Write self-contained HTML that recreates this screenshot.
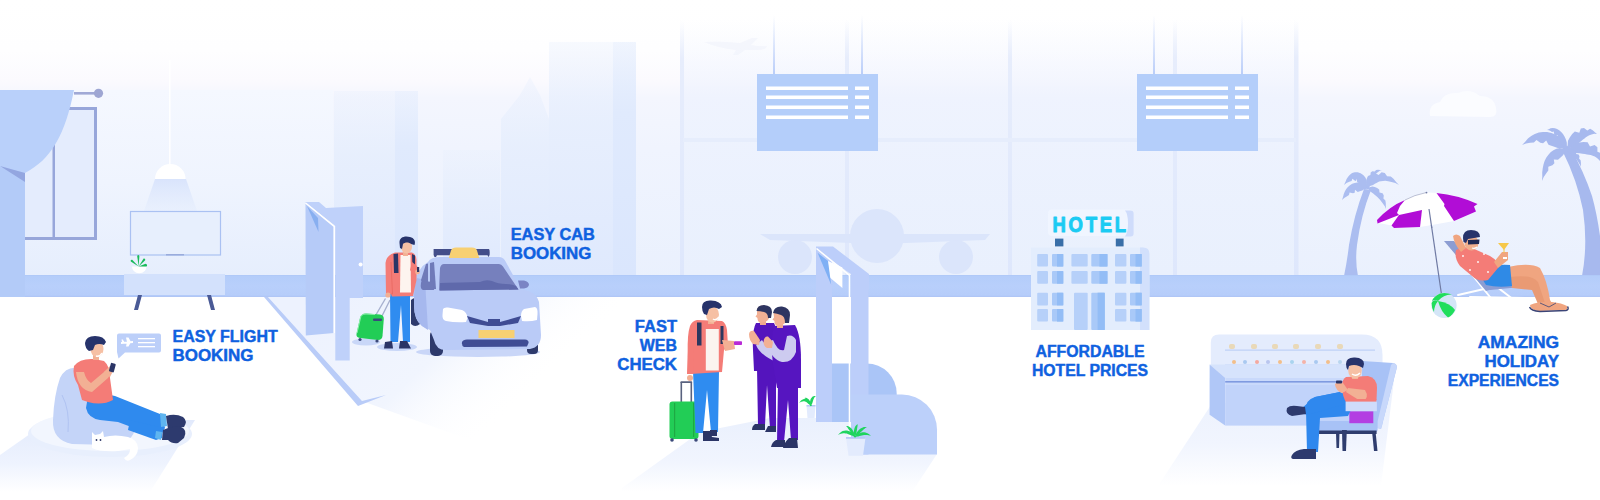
<!DOCTYPE html>
<html><head><meta charset="utf-8">
<style>
html,body{margin:0;padding:0;background:#fff;width:1600px;height:500px;overflow:hidden}
svg{display:block}
.t{font-family:"Liberation Sans",sans-serif;font-weight:bold;fill:#0f61e0;stroke:#0f61e0;stroke-width:0.45px;font-size:16px}
</style></head><body>
<svg width="1600" height="500" viewBox="0 0 1600 500">
<defs>
<linearGradient id="sky" gradientUnits="userSpaceOnUse" x1="0" y1="0" x2="0" y2="297">
<stop offset="0" stop-color="#ffffff"/>
<stop offset="0.17" stop-color="#fefeff"/>
<stop offset="0.27" stop-color="#fbfafe"/>
<stop offset="0.33" stop-color="#f4f6fe"/>
<stop offset="0.5" stop-color="#f0f4fe"/>
<stop offset="1" stop-color="#e9f0fd"/>
</linearGradient>
<linearGradient id="glass" gradientUnits="userSpaceOnUse" x1="0" y1="20" x2="0" y2="275">
<stop offset="0" stop-color="#eef3fe" stop-opacity="0"/>
<stop offset="0.3" stop-color="#edf2fe" stop-opacity="0.7"/>
<stop offset="1" stop-color="#e9f0fd" stop-opacity="1"/>
</linearGradient>
<linearGradient id="wire" x1="0" y1="0" x2="0" y2="1">
<stop offset="0" stop-color="#c3d4fa" stop-opacity="0"/>
<stop offset="1" stop-color="#b9cdf9"/>
</linearGradient>
<linearGradient id="frameV" gradientUnits="userSpaceOnUse" x1="0" y1="20" x2="0" y2="275">
<stop offset="0" stop-color="#e8eefc" stop-opacity="0"/>
<stop offset="0.15" stop-color="#e7edfc"/>
<stop offset="1" stop-color="#dee7fc"/>
</linearGradient>
<linearGradient id="bldg" x1="0" y1="0" x2="0" y2="1">
<stop offset="0" stop-color="#e9f0fd" stop-opacity="0.35"/>
<stop offset="0.35" stop-color="#e6eefd" stop-opacity="0.9"/>
<stop offset="1" stop-color="#dfe9fd"/>
</linearGradient>
<linearGradient id="floorFade" x1="0" y1="0" x2="0" y2="1">
<stop offset="0" stop-color="#e6edfc"/>
<stop offset="1" stop-color="#ffffff" stop-opacity="0"/>
</linearGradient>
<linearGradient id="shadeL" x1="0" y1="0" x2="0" y2="1">
<stop offset="0" stop-color="#e2eafc"/>
<stop offset="0.6" stop-color="#eef3fe"/>
<stop offset="1" stop-color="#ffffff"/>
</linearGradient>
<linearGradient id="shadeC" x1="0" y1="0" x2="0" y2="1">
<stop offset="0" stop-color="#eaf0fd"/>
<stop offset="0.6" stop-color="#f1f5fe"/>
<stop offset="1" stop-color="#ffffff"/>
</linearGradient>
<linearGradient id="bandG" gradientUnits="userSpaceOnUse" x1="0" y1="275" x2="0" y2="297">
<stop offset="0" stop-color="#adc7f7"/>
<stop offset="0.06" stop-color="#b4cdfa"/>
<stop offset="0.5" stop-color="#b8cffb"/>
<stop offset="0.92" stop-color="#b6cdfa"/>
<stop offset="0.96" stop-color="#b0c6f6"/>
<stop offset="1" stop-color="#b0c6f6"/>
</linearGradient>
<linearGradient id="cone" x1="0" y1="0" x2="0" y2="1">
<stop offset="0" stop-color="#d9e4fc"/>
<stop offset="1" stop-color="#e6eefd" stop-opacity="0.6"/>
</linearGradient>
<linearGradient id="shadeD" gradientUnits="userSpaceOnUse" x1="330" y1="300" x2="470" y2="450">
<stop offset="0" stop-color="#edf2fe"/>
<stop offset="0.55" stop-color="#f1f5fe"/>
<stop offset="1" stop-color="#ffffff" stop-opacity="0"/>
</linearGradient>
<linearGradient id="bldgR" x1="0" y1="0" x2="0" y2="1">
<stop offset="0" stop-color="#e6eefd" stop-opacity="0.4"/>
<stop offset="0.3" stop-color="#e0eafd"/>
<stop offset="1" stop-color="#dae6fd"/>
</linearGradient>
<linearGradient id="wallG" x1="0" y1="0" x2="0" y2="1">
<stop offset="0" stop-color="#f5f8ff"/>
<stop offset="0.5" stop-color="#eff4fe"/>
<stop offset="1" stop-color="#e6eefd"/>
</linearGradient>
</defs>

<!-- sky / back wall -->
<rect x="0" y="0" width="1600" height="297" fill="url(#sky)"/>

<!-- city buildings -->
<g fill="url(#bldg)">
<rect x="334" y="91" width="84" height="184"/>
<rect x="443" y="150" width="57" height="125"/>
<path d="M501 275 V119 L520 95 L530 77 L540 95 L549 119 V275Z"/>
<rect x="549" y="42" width="87" height="233"/>
</g>
<rect x="395" y="91" width="23" height="184" fill="url(#bldgR)"/>
<rect x="613" y="42" width="23" height="233" fill="url(#bldgR)"/>

<!-- sky plane -->
<path d="M704 42 Q720 41 740 43 L752 38 L758 38 L751 45 Q760 47 767 46 Q766 50 757 50 L745 50 L738 55 L733 55 L736 50 Q718 48 704 42Z" fill="#f0f1fa" opacity="0.6"/>
<!-- cloud -->
<path d="M1430 116 Q1428 104 1440 102 Q1444 92 1458 93 Q1470 88 1480 96 Q1494 96 1496 108 Q1498 117 1490 117Z" fill="#fbfcff"/>
<!-- window frames -->
<rect x="683" y="20" width="615" height="255" fill="url(#glass)"/>
<g fill="url(#frameV)">
<rect x="680" y="20" width="4" height="255"/>
<rect x="845" y="20" width="4" height="255"/>
<rect x="1008" y="20" width="4" height="255"/>
<rect x="1173" y="20" width="4" height="255"/>
<rect x="1294" y="20" width="4.5" height="255"/>
</g>
<rect x="683" y="138" width="613" height="4" fill="#e6edfc"/>

<!-- airplane front view -->
<g fill="#dbe5fb">
<path d="M760 234 L990 234 L985 240 L880 244 L770 240Z"/>
<circle cx="877" cy="236" r="27"/>
<circle cx="795" cy="257" r="17"/>
<circle cx="956" cy="257" r="17"/>
</g>

<!-- flight boards -->
<rect x="773" y="15" width="2" height="60" fill="url(#wire)"/>
<rect x="861" y="15" width="2" height="60" fill="url(#wire)"/>
<rect x="1153" y="15" width="2" height="60" fill="url(#wire)"/>
<rect x="1241" y="15" width="2" height="60" fill="url(#wire)"/>
<g>
<rect x="757" y="74" width="121" height="77" fill="#b4cefa"/>
<g fill="#fff">
<rect x="766" y="86.5" width="82" height="3.5"/><rect x="855" y="86.5" width="14" height="3.5"/>
<rect x="766" y="95.5" width="82" height="3.5"/><rect x="855" y="95.5" width="14" height="3.5"/>
<rect x="766" y="105.5" width="82" height="3.5"/><rect x="855" y="105.5" width="14" height="3.5"/>
<rect x="766" y="115.5" width="82" height="3.5"/><rect x="855" y="115.5" width="14" height="3.5"/>
</g>
</g>
<g transform="translate(380 0)">
<rect x="757" y="74" width="121" height="77" fill="#b4cefa"/>
<g fill="#fff">
<rect x="766" y="86.5" width="82" height="3.5"/><rect x="855" y="86.5" width="14" height="3.5"/>
<rect x="766" y="95.5" width="82" height="3.5"/><rect x="855" y="95.5" width="14" height="3.5"/>
<rect x="766" y="105.5" width="82" height="3.5"/><rect x="855" y="105.5" width="14" height="3.5"/>
<rect x="766" y="115.5" width="82" height="3.5"/><rect x="855" y="115.5" width="14" height="3.5"/>
</g>
</g>

<!-- palms -->
<g fill="#a7b9ee">
<path d="M1563 152 Q1577 180 1583 210 Q1588 245 1582 276 L1600 276 L1600 236 Q1597 214 1592 196 Q1584 172 1571 149Z"/>
<path d="M1568.4 148.5 L1564.9 145.2 L1562.8 140.3 L1559.3 137.1 L1555.5 134.6 L1551.4 132.9 L1547.1 132.0 L1542.9 131.9 L1538.8 132.6 L1534.8 134.0 L1531.2 136.0 L1527.9 138.6 L1525.0 141.9 L1522.0 145.0 L1522.0 145.0 L1526.0 143.4 L1530.2 142.8 L1533.9 142.5 L1536.5 139.9 L1540.3 142.8 L1543.1 143.3 L1546.2 140.4 L1548.5 144.8 L1551.3 145.7 L1554.3 146.8 L1557.7 148.1 L1562.3 148.5 L1565.6 151.5Z"/>
<path d="M1568.1 149.6 L1566.9 146.1 L1566.8 142.4 L1565.8 139.2 L1564.5 136.4 L1563.0 134.0 L1561.2 131.9 L1559.2 130.2 L1557.1 129.0 L1554.9 128.2 L1552.7 128.0 L1550.6 128.3 L1548.7 129.2 L1547.0 130.0 L1547.0 130.0 L1548.9 130.2 L1550.6 131.0 L1552.0 132.0 L1553.7 131.6 L1554.2 134.1 L1555.2 135.3 L1557.8 135.3 L1557.5 138.3 L1558.9 140.2 L1560.4 142.3 L1562.1 144.7 L1564.6 147.1 L1565.9 150.4Z"/>
<path d="M1568.7 151.0 L1570.8 147.6 L1574.7 146.1 L1577.2 144.1 L1579.4 142.4 L1581.3 140.9 L1583.0 139.6 L1584.5 138.4 L1585.9 137.3 L1587.5 136.2 L1589.3 135.2 L1591.5 134.4 L1594.2 133.7 L1597.0 134.0 L1597.0 134.0 L1594.9 132.2 L1592.7 130.2 L1590.1 128.8 L1587.3 130.5 L1584.0 127.9 L1580.8 128.5 L1579.3 132.7 L1574.8 131.6 L1572.2 134.1 L1569.9 137.2 L1568.0 140.7 L1567.6 145.4 L1565.3 149.0Z"/>
<path d="M1567.5 152.0 L1571.8 151.0 L1576.1 152.9 L1579.5 153.3 L1582.4 153.7 L1584.9 154.1 L1587.0 154.4 L1588.9 154.7 L1590.7 155.1 L1592.7 155.7 L1594.8 156.6 L1597.0 158.1 L1599.4 160.2 L1601.0 163.0 L1601.0 163.0 L1601.1 159.7 L1601.3 156.4 L1600.8 153.1 L1597.4 151.7 L1597.4 147.2 L1594.6 144.9 L1590.0 146.5 L1587.6 142.2 L1583.6 141.9 L1579.4 142.4 L1575.2 143.6 L1571.1 146.9 L1566.5 148.0Z"/>
<path d="M1566.6 148.2 L1563.6 148.9 L1559.8 147.9 L1556.4 148.8 L1553.4 150.3 L1550.6 152.3 L1548.2 154.9 L1546.2 157.8 L1544.6 161.0 L1543.5 164.6 L1542.7 168.4 L1542.2 172.4 L1542.3 176.7 L1542.0 181.0 L1542.0 181.0 L1543.7 177.0 L1546.1 173.6 L1548.3 170.4 L1548.3 166.8 L1552.4 165.3 L1554.4 163.2 L1553.8 159.4 L1558.0 159.7 L1559.7 158.2 L1561.4 156.7 L1563.2 155.1 L1564.7 152.3 L1567.4 151.8Z"/>
<path d="M1566.8 150.9 L1568.3 151.2 L1569.3 152.7 L1570.4 153.6 L1571.4 154.4 L1572.4 155.3 L1573.5 156.3 L1574.5 157.3 L1575.6 158.5 L1576.7 159.8 L1577.8 161.3 L1578.9 163.0 L1580.1 164.9 L1581.0 167.0 L1581.0 167.0 L1580.9 164.7 L1580.9 162.4 L1580.6 160.3 L1579.1 158.7 L1579.5 156.3 L1578.6 154.6 L1576.2 154.0 L1576.1 151.6 L1574.6 150.5 L1572.9 149.6 L1571.1 149.1 L1568.9 149.5 L1567.2 149.1Z"/>
</g>
<g fill="#abbdf0">
<path d="M1364 189 Q1354 215 1349 245 Q1347 262 1344 276 L1358 276 Q1355 262 1357 245 Q1361 215 1371 190Z"/>
<path d="M1368.5 187.2 L1366.8 184.1 L1366.7 180.2 L1365.2 177.3 L1363.2 174.9 L1360.6 173.2 L1357.7 172.2 L1354.8 172.2 L1352.1 173.1 L1349.9 174.7 L1348.1 176.7 L1346.6 179.1 L1345.4 182.0 L1344.0 185.0 L1344.0 185.0 L1346.5 182.9 L1349.3 181.7 L1351.6 180.9 L1352.4 178.8 L1355.0 180.7 L1355.9 181.1 L1356.9 178.8 L1357.1 182.1 L1358.0 182.6 L1359.2 183.4 L1361.0 184.7 L1364.0 185.9 L1365.5 188.8Z"/>
<path d="M1367.4 186.4 L1365.0 185.7 L1362.7 183.3 L1360.1 182.6 L1357.3 182.5 L1354.7 182.9 L1352.2 183.8 L1349.9 185.2 L1347.9 187.0 L1346.2 189.1 L1344.8 191.5 L1343.7 194.2 L1343.0 197.1 L1342.0 200.0 L1342.0 200.0 L1344.2 197.9 L1346.7 196.4 L1349.0 195.1 L1349.6 192.6 L1353.0 193.3 L1354.7 192.8 L1355.0 189.8 L1357.7 192.0 L1359.1 191.6 L1360.6 191.1 L1362.3 190.6 L1364.4 189.0 L1366.6 189.6Z"/>
<path d="M1368.5 188.8 L1370.0 185.9 L1373.1 184.9 L1374.9 183.7 L1376.5 182.9 L1377.8 182.2 L1379.2 181.6 L1380.9 181.2 L1382.9 180.9 L1385.3 180.8 L1388.2 181.2 L1391.5 181.9 L1395.3 183.0 L1399.0 185.0 L1399.0 185.0 L1396.1 181.9 L1393.5 178.8 L1390.8 176.4 L1387.1 176.3 L1384.8 173.0 L1381.6 172.2 L1378.6 175.0 L1375.1 173.0 L1372.1 174.7 L1369.6 177.0 L1367.7 180.0 L1367.3 184.1 L1365.5 187.2Z"/>
<path d="M1367.9 188.1 L1368.3 185.7 L1369.8 183.7 L1370.7 181.9 L1371.5 180.2 L1372.4 178.7 L1373.2 177.4 L1374.0 176.1 L1374.9 174.9 L1375.9 173.8 L1377.1 172.7 L1378.5 171.7 L1380.1 170.6 L1382.0 170.0 L1382.0 170.0 L1380.0 169.9 L1378.0 169.7 L1376.1 169.9 L1374.7 171.5 L1372.3 171.3 L1370.7 172.5 L1370.4 175.1 L1368.0 175.9 L1367.0 177.9 L1366.3 180.2 L1366.0 182.6 L1366.5 185.3 L1366.1 187.9Z"/>
<path d="M1366.8 189.2 L1368.9 189.6 L1370.3 191.5 L1371.8 192.6 L1373.2 193.6 L1374.6 194.7 L1375.9 195.8 L1377.3 197.0 L1378.8 198.4 L1380.2 200.0 L1381.7 201.9 L1383.2 204.0 L1384.8 206.3 L1386.0 209.0 L1386.0 209.0 L1385.8 206.1 L1385.8 203.2 L1385.4 200.4 L1383.4 198.5 L1383.8 195.4 L1382.6 193.2 L1379.5 192.5 L1379.2 189.4 L1377.1 188.1 L1374.8 187.1 L1372.4 186.6 L1369.6 187.3 L1367.2 186.8Z"/>
</g>
<!-- band -->
<rect x="0" y="275" width="1600" height="22" fill="url(#bandG)"/>

<!-- left room wall -->
<rect x="25" y="90" width="308" height="185" fill="url(#wallG)"/>
<!-- window -->
<rect x="25" y="108" width="72" height="132" fill="#e4ecfd"/>
<g fill="#97a6da">
<rect x="25" y="237" width="72" height="3"/>
<rect x="94" y="107" width="3" height="133"/>
<rect x="55" y="107" width="42" height="3"/>
<rect x="52.5" y="110" width="2.5" height="128"/>
</g>
<!-- curtain -->
<rect x="0" y="130" width="25" height="167" fill="#b3cbf8"/>
<path d="M0 90 L74 90 C70 110 64 130 56 143 C48 157 38 166 25 173 L0 167Z" fill="#b9d0fa"/>
<path d="M0 166 L25 173 L25 182 Z" fill="#93a6e0"/>
<rect x="74" y="92" width="24" height="2.6" fill="#a0a9d6"/>
<circle cx="98.5" cy="93.3" r="4.6" fill="#9ea6d3"/>
<!-- lamp -->
<rect x="169" y="60" width="1.6" height="105" fill="#ffffff" opacity="0.9"/>
<path d="M155 179 L186 179 L197 211 L144 211Z" fill="url(#cone)"/>
<path d="M155 179 A15.3 15 0 0 1 185.6 179Z" fill="#ffffff"/>
<!-- TV -->
<rect x="130.5" y="211.5" width="90" height="43.5" fill="#e7effd" stroke="#aac1f2" stroke-width="1.2"/>
<rect x="166" y="254" width="18" height="1.5" fill="#9aacdc"/>
<!-- console -->
<rect x="124" y="274" width="101" height="21" fill="#d3e1fc"/>
<path d="M138 295 L142 295 L138 310 L134 310Z" fill="#4a5a96"/>
<path d="M207 295 L211 295 L215 310 L211 310Z" fill="#4a5a96"/>
<!-- plant -->
<path d="M131.9 266.5 L146.6 266.5 Q146 273 139.3 273.2 Q132.5 273 131.9 266.5Z" fill="#ffffff"/>
<g fill="#19bb5a">
<path d="M138.6 266.4 L137.2 256 Q138.2 254 139.4 256 Z"/>
<path d="M138.6 266.4 L130.8 261.6 Q130 259.5 132.2 259.8 Z"/>
<path d="M138.6 266.4 L143.6 258.6 Q145.6 258.2 145.2 260.2 Z"/>
<path d="M138.6 266.4 L145.5 263.8 Q148 264.6 146.6 266.6 Z"/>
</g>

<!-- floor shading -->
<path d="M268 297 L620 297 L620 340 L540 400 L470 440 L362 401 Z" fill="url(#shadeD)"/>
<path d="M622 488 L700 432 L770 418 L850 418 L850 454 L937 454 L912 492 L622 492Z" fill="url(#shadeC)"/>
<!-- door -->
<path d="M305 202 L319 202 L326 208 L363 206 L363 298 L349.7 298 L349.7 360.5 L335.3 360.5 L335.3 226 Z" fill="#bfd1fa"/>
<path d="M305.5 203 L334 226.5 L334 333 L305.8 335.5 Z" fill="#b6cbf8"/>
<path d="M305.5 203 L334.2 226.5 L334.2 333" fill="none" stroke="#ffffff" stroke-width="1.6"/>
<path d="M307 206 L318 218 L318.5 232 Z" fill="#88aff0"/>
<circle cx="360.6" cy="264.6" r="2" fill="#ffffff"/>
<!-- floor shadow line from door -->
<path d="M264 297 L268 297 L362 401 L386 395 L358 406 Z" fill="#b9ccf8"/>
<!-- flight man on beanbag -->
<g id="beanbag">
<path d="M0 455 L50 420 L195 420 L150 492 L0 492Z" fill="url(#shadeL)"/>
<ellipse cx="110" cy="434" rx="82" ry="23" fill="#e8effd"/>
<ellipse cx="110" cy="431" rx="79" ry="20" fill="#f2f6fe"/>
<!-- bean bag -->
<path d="M60 378 Q66 366 78 368 L88 380 L108 408 Q124 418 135 428 Q134 442 112 445 L72 444 Q52 440 53 420 Q54 395 60 378Z" fill="#c4d4f8"/>
<path d="M62 395 Q70 410 68 432" fill="none" stroke="#b0c3f2" stroke-width="1"/>
<!-- jeans -->
<path d="M88 396 Q100 392 115 396 L160 414 Q166 418 164 424 L165 428 L160 436 L150 434 L118 422 L100 420 Q88 418 86 408Z" fill="#2f8aee"/>
<path d="M130 420 L163 428 L162 438 L156 440 L128 430Z" fill="#2f8aee"/>
<path d="M160 413 L166 414 L167 426 L161 427Z" fill="#5fb5f0"/>
<path d="M156 431 L162 432 L161 440 L155 438Z" fill="#5fb5f0"/>
<!-- shoes -->
<path d="M166 416 Q175 413 183 417 Q188 421 184 427 L168 429 Z" fill="#2d3a6e"/>
<path d="M163 430 Q172 425 181 427 Q188 430 184 438 L178 443 Q172 444 168 440 L162 440Z" fill="#2d3a6e"/>
<!-- shirt -->
<path d="M74 366 Q80 358 94 359 L104 361 Q110 366 110 378 L113 400 Q102 406 88 402 L82 400 L78 385 Q72 376 74 366Z" fill="#f47c77"/>
<!-- arms -->
<path d="M76 372 Q78 390 92 392 L108 378 L112 372 L109 368 L104 372 L91 383 Q86 380 84 372Z" fill="#f2b094"/>
<path d="M104 372 L110 366 L114 369 L110 377Z" fill="#f2b094"/>
<rect x="110" y="363" width="5" height="9" rx="1" transform="rotate(15 112 367)" fill="#2b3566"/>
<!-- head -->
<path d="M93 354 L99 354 L99 360 L93 360Z" fill="#f2b094"/>
<ellipse cx="97" cy="349" rx="6.5" ry="8" fill="#f6c0a4"/>
<path d="M96 356 Q100 357 102 353" fill="none" stroke="#ffffff" stroke-width="1.5"/>
<path d="M85 343 Q86 336 95 336 Q104 336 106 342 L104 345 Q99 343 95 345 L93 350 L89 351 Q85 348 85 343Z" fill="#27336b"/>
<!-- cat -->
<path d="M92 438 L92 432 L95 435 L100 434 L103 431 L104 437 Q115 434 128 437 Q138 440 138 448 Q138 456 130 460 Q126 462 124 458 Q130 455 130 449 L118 451 Q100 452 92 448Z" fill="#ffffff"/>
<circle cx="96.5" cy="440" r="0.9" fill="#2b3566"/><circle cx="100.5" cy="440" r="0.9" fill="#2b3566"/>
<!-- bubble -->
<path d="M119 333.5 L159 333.5 Q161 333.5 161 335.5 L161 350.5 Q161 352.5 159 352.5 L125 352.5 L118.5 358.5 L117 352 L117 335.5 Q117 333.5 119 333.5Z" fill="#bccff9"/>
<path d="M121 342 L133 341 L133 343 L121 344Z M126 337.5 L128.5 337.5 L131 342 L128.5 346.5 L126 346.5 L127 342Z M121.5 339.5 L123 339.5 L124 342 L122 342Z" fill="#ffffff"/>
<g fill="#ffffff"><rect x="138" y="338" width="17" height="1.3"/><rect x="138" y="342" width="17" height="1.3"/><rect x="138" y="346" width="17" height="1.3"/></g>
</g>
<!-- taxi -->
<g id="taxi">
<ellipse cx="478" cy="352" rx="62" ry="5" fill="#c9d6f8"/>
<!-- rear side wheel -->
<path d="M411 300 Q415 296 420 300 L420 324 Q415 328 411 324Z" fill="#2e3a6c"/>
<!-- wheels front -->
<rect x="430" y="330" width="13" height="26" rx="5" fill="#2e3a6c"/>
<rect x="527" y="336" width="11" height="18" rx="4" fill="#2e3a6c"/>
<!-- body -->
<path d="M428 262 Q431 257 440 257 L499 257 Q503 257 505 260.5 L521 289.5 Q536 291 539 302 L541 335 Q541 347 530 349 L446 350 Q436 350 434 340 L430 330 L422 326 Q414 320 414 305 L415 285 Q417 268 428 262Z" fill="#bacbf7"/>
<path d="M414 300 Q414 285 417 278 L425 280 L428 330 L422 326 Q414 320 414 305Z" fill="#a6b8ee"/>
<!-- roof rack & sign -->
<path d="M433.6 249 L489 249 Q490 250 489.6 255 L488.5 257 L487.5 255.3 L437 255.3 L436 257 L434.5 257 L433.6 255Z" fill="#434e8a"/>
<path d="M448.8 258 L451 250.5 Q452 247.6 456 247.6 L472 247.6 Q476 247.6 477 250.5 L479.2 258Z" fill="#f7d073"/>
<!-- windshield -->
<path d="M444 264 L499 264 Q501.5 264 503 266.5 L518.5 289.5 L439 290.5 L440 268 Q441 264 444 264Z" fill="#7680bd"/>
<path d="M440 290.5 L440 283 Q470 282 480 282 Q486 279 492 281 Q498 284 506 284 Q512 284 516 286 L518.5 289.5Z" fill="#5f69ab"/>
<!-- side windows -->
<path d="M426 264 L434 262 L436 289 L424 290 L421 280 Z" fill="#6f7ab9"/>
<rect x="428" y="262" width="2" height="28" fill="#bacbf7"/>
<!-- mirrors -->
<path d="M421 283 Q421 281 424 281 L433 282 L434 290 L423 290 Q420 289 421 283Z" fill="#6f7ab9"/>
<path d="M518 280.5 L524 280.5 Q529 281.5 529 285 Q528 288 524 288.5 L520 288.5Z" fill="#7b84c4"/>
<!-- headlights -->
<path d="M443 309 Q444 307 448 307.5 L462 310 Q467 312 467.5 318 L466 322 Q456 323 446 321 Q442 320 442.5 315Z" fill="#ffffff"/>
<path d="M524 309 L535 307 Q538 308 537.5 314 L537 320 Q530 322 522 321 L521 316 Q521 311 524 309Z" fill="#ffffff"/>
<!-- grille -->
<path d="M467 316 L488 322 L488 326 L470 323Z" fill="#3f4c94"/>
<path d="M521 316 L500 322 L500 326 L518 323Z" fill="#3f4c94"/>
<rect x="488" y="319" width="12" height="7" fill="#3f4c94"/>
<!-- plate -->
<rect x="478.5" y="330" width="36" height="8" fill="#f7d073"/>
<!-- lower intake -->
<path d="M462 342 Q463 339.5 467 339.5 L525 339.5 Q529 340 528.5 343 L527 346.5 L464 347 Q461.5 346 462 342Z" fill="#3f4c94"/>
</g>
<!-- cab man -->
<g id="cabman">
<ellipse cx="397" cy="347" rx="20" ry="4" fill="#c9d7f8"/>
<ellipse cx="366" cy="342" rx="14" ry="3.5" fill="#c9d7f8"/>
<!-- suitcase -->
<g>
<path d="M373.5 319 L385.5 298.5" stroke="#a7b0cf" stroke-width="1.4"/>
<path d="M379.5 321 L390 300" stroke="#a7b0cf" stroke-width="1.4"/>
<path d="M366 313.5 L380 314.5 Q384 315 383.8 319 L382.5 336 Q382 340 378 340 L360 338 Q356 337.5 356.5 334 L360 318 Q361 313.5 366 313.5Z" fill="#22cd56"/>
<path d="M360.5 318 Q361 314 366 314 L375 314.5" fill="none" stroke="#8ff0ad" stroke-width="1"/>
<path d="M357 333 L360.5 318" fill="none" stroke="#8ff0ad" stroke-width="1"/>
<rect x="373" y="318.5" width="9" height="2.6" rx="1" fill="#3a4a7c"/>
<circle cx="360" cy="339.5" r="1.6" fill="#3c4a7a"/><circle cx="377" cy="341" r="1.6" fill="#3c4a7a"/>
</g>
<!-- legs -->
<path d="M390 292 L410 292 L410 342 L403 342 L401 305 L398 342 L390.5 342 Z" fill="#2f8cf0"/>
<path d="M385 342 L392 341 L393 348.5 L384 348.5 Z" fill="#2b3566"/>
<path d="M400 341 L407 341 L411 348.5 L399 348.5 Z" fill="#2b3566"/>
<!-- shirt -->
<path d="M395 252.5 L412 252.5 Q416 254 416.5 260 L416.5 280 L413 296 L392 296.5 L391 294 L386 294 L385.5 263 Q386.5 255 395 252.5 Z" fill="#f47c77"/>
<path d="M400.5 255 L410.5 255 L411 292.5 L400 292.5 Z" fill="#fdf4ef"/>
<path d="M393.5 254 L398 253.5 L398.5 273 L394 273 Z" fill="#2b3566"/>
<path d="M412 254 L415 255.5 L415 268 L412.5 268 Z" fill="#2b3566"/>
<path d="M391 262 L392.5 294 L391 294" fill="none" stroke="#e9675f" stroke-width="0.8"/>
<circle cx="388" cy="295" r="2.6" fill="#f2b094"/>
<path d="M412 262 L417 266 L419 273 L415 275 L410 270 Z" fill="#f47c77"/>
<circle cx="417.5" cy="272" r="2.4" fill="#f2b094"/>
<rect x="417" y="267" width="2.2" height="5" fill="#2b3566"/>
<!-- head -->
<rect x="403" y="250" width="5" height="6" fill="#f2b094"/>
<ellipse cx="406.5" cy="247" rx="5.5" ry="6.5" fill="#f6c0a4"/>
<path d="M399.5 243 C399 237 405 235.5 410 237 C414 238 416 241 414.5 245 L411 244 C409 242 405 242 403 244 L402 249 L400 248 Z" fill="#27336b"/>
</g>
<!-- kiosk gate -->
<g id="kiosk">
<path d="M831.6 363.4 L866.7 363.4 A30 30 0 0 1 896.7 393.4 L896.7 422 L831.6 422Z" fill="#aac5f7"/>
<rect x="816" y="247" width="16" height="175" fill="#bccefa"/>
<path d="M816 246.5 L833 246.5 L869 274 L869 290 L851 276 L851 274 L816 250Z" fill="#bccefa"/>
<rect x="851" y="274" width="17.5" height="180.5" fill="#bccefa"/>
<path d="M816.5 248.5 L849.5 275.5 L849.5 454" fill="none" stroke="#ffffff" stroke-width="1.6"/>
<path d="M828 261 L842.4 267.5 L842.4 288 L828 276Z" fill="#ffffff"/>
<path d="M817.6 252.8 L828 261 L831.2 284.8Z" fill="#7fb0f5"/>
<path d="M851 394.6 L902 394.6 A35 35 0 0 1 937 429.6 L937 454.5 L851 454.5Z" fill="#bcd0fa"/>
<!-- plants -->
<path d="M806.5 405.5 L815.5 405.5 L814.5 418 L807.5 418Z" fill="#e3ebfd"/>
<rect x="806.5" y="405" width="9" height="1.5" fill="#b6c9f6"/>
<g fill="#1fd45e">
<path d="M811.4 405.8 L810.6 404.3 L810.2 402.7 L809.5 401.4 L808.5 400.4 L807.5 399.6 L806.3 399.1 L805.1 398.9 L803.9 399.0 L802.8 399.4 L801.7 400.0 L800.8 400.8 L799.9 401.9 L799.0 403.0 L799.0 403.0 L800.2 402.2 L801.4 401.7 L802.5 401.4 L803.5 401.2 L804.3 401.3 L805.0 401.5 L805.6 401.7 L806.3 402.1 L806.9 402.6 L807.7 403.2 L808.6 404.0 L809.8 404.8 L810.6 406.2Z"/>
<path d="M811.5 406.0 L811.5 404.7 L812.2 403.6 L812.5 402.5 L812.8 401.6 L813.0 400.8 L813.3 400.0 L813.5 399.3 L813.8 398.7 L814.1 398.1 L814.4 397.6 L814.8 397.0 L815.3 396.4 L816.0 396.0 L816.0 396.0 L815.2 396.0 L814.4 396.0 L813.5 396.2 L812.7 396.6 L812.0 397.2 L811.4 397.9 L810.8 398.8 L810.4 399.8 L810.2 400.9 L810.0 402.0 L810.1 403.3 L810.6 404.6 L810.5 406.0Z"/>
<path d="M811.4 405.9 L810.9 404.7 L810.8 403.3 L810.4 402.2 L810.0 401.2 L809.5 400.4 L808.9 399.6 L808.2 398.9 L807.5 398.4 L806.8 398.0 L806.0 397.8 L805.3 397.8 L804.6 397.9 L804.0 398.0 L804.0 398.0 L804.6 398.2 L805.1 398.6 L805.6 399.0 L806.0 399.5 L806.3 399.9 L806.8 400.5 L807.2 401.1 L807.6 401.7 L808.1 402.4 L808.7 403.2 L809.3 404.1 L810.2 405.0 L810.6 406.1Z"/>
</g>
<path d="M846 437.5 L865.5 437.5 L863 455.8 L848.5 455.8Z" fill="#e3ebfd"/>
<rect x="846" y="437" width="19.5" height="1.8" fill="#b6c9f6"/>
<g fill="#1fd45e">
<path d="M855.4 436.6 L854.0 435.3 L852.9 433.6 L851.6 432.5 L850.1 431.6 L848.6 430.9 L847.1 430.6 L845.6 430.5 L844.1 430.7 L842.7 431.1 L841.4 431.8 L840.2 432.7 L839.1 433.8 L838.0 435.0 L838.0 435.0 L839.4 434.2 L840.8 433.7 L842.1 433.4 L843.4 433.3 L844.5 433.3 L845.6 433.4 L846.7 433.6 L847.8 434.0 L849.0 434.4 L850.2 434.9 L851.6 435.6 L853.3 436.1 L854.6 437.4Z"/>
<path d="M855.4 436.8 L854.7 435.3 L854.4 433.6 L853.8 432.2 L853.1 430.9 L852.4 429.8 L851.7 428.8 L850.9 428.0 L850.0 427.2 L849.2 426.7 L848.3 426.3 L847.5 426.0 L846.7 426.0 L846.0 426.0 L846.0 426.0 L846.6 426.4 L847.0 427.0 L847.5 427.6 L847.9 428.3 L848.4 429.0 L848.9 429.7 L849.5 430.6 L850.2 431.5 L850.9 432.5 L851.7 433.5 L852.6 434.7 L853.8 435.7 L854.6 437.2Z"/>
<path d="M855.5 437.0 L855.5 435.5 L856.1 434.2 L856.4 432.9 L856.6 431.7 L856.8 430.6 L857.0 429.6 L857.1 428.6 L857.2 427.7 L857.4 426.9 L857.5 426.1 L857.6 425.4 L857.7 424.6 L858.0 424.0 L858.0 424.0 L857.4 424.4 L856.7 424.8 L856.1 425.4 L855.5 426.1 L855.0 426.9 L854.6 427.9 L854.3 429.0 L854.1 430.1 L853.9 431.3 L853.9 432.6 L854.0 434.0 L854.5 435.5 L854.5 437.0Z"/>
<path d="M855.4 437.3 L856.3 436.0 L857.7 435.1 L858.8 434.1 L859.7 433.2 L860.6 432.3 L861.5 431.5 L862.3 430.7 L863.1 430.0 L863.8 429.3 L864.6 428.7 L865.3 428.0 L866.1 427.4 L867.0 427.0 L867.0 427.0 L866.0 427.0 L865.0 427.0 L863.9 427.1 L862.8 427.4 L861.7 427.9 L860.6 428.5 L859.6 429.3 L858.6 430.2 L857.7 431.2 L856.8 432.4 L856.0 433.7 L855.5 435.4 L854.6 436.7Z"/>
<path d="M855.3 437.4 L856.6 436.6 L858.2 436.4 L859.5 436.1 L860.7 435.7 L861.9 435.5 L863.0 435.3 L864.1 435.1 L865.1 435.0 L866.2 435.0 L867.4 435.1 L868.5 435.2 L869.8 435.5 L871.0 436.0 L871.0 436.0 L870.0 435.1 L869.1 434.2 L868.0 433.5 L866.8 432.9 L865.5 432.5 L864.2 432.3 L862.8 432.3 L861.4 432.5 L860.0 433.0 L858.6 433.6 L857.3 434.4 L856.1 435.7 L854.7 436.6Z"/>
</g>
</g>
<!-- hotel -->
<g id="hotel">
<rect x="1048" y="209.5" width="85" height="26.5" rx="4" fill="#f0f5ff"/>
<path d="M1125 210.6 L1130.6 210.6 Q1133.6 210.6 1133.6 213.6 L1133.6 233.6 Q1133.6 236.6 1130.6 236.6 L1125 236.6 Q1128 233 1128 223.6 Q1128 214 1125 210.6Z" fill="#cfdcfb"/>
<text transform="scale(0.86 1)" x="1223.8" y="231.8" font-family="Liberation Sans, sans-serif" font-weight="bold" font-size="21.5" fill="#1bcbf3" stroke="#1bcbf3" stroke-width="1" stroke-linejoin="round" textLength="85.5" lengthAdjust="spacing">HOTEL</text>
<rect x="1055" y="238.6" width="8.4" height="7.8" fill="#3a6fa8"/>
<rect x="1115.8" y="238.6" width="7.8" height="7.8" fill="#3a6fa8"/>
<path d="M1031 247.6 L1143 247.6 Q1149.4 247.6 1149.4 254 L1149.4 330 L1031 330Z" fill="#e3edfd"/>
<path d="M1140 247.6 L1143 247.6 Q1149.4 247.6 1149.4 254 L1149.4 330 L1140 330Z" fill="#d2e0fc"/>
<g>
<rect x="1037.2" y="254.0" width="10.8" height="12.6" rx="1" fill="#b6d0f9"/>
<rect x="1052.0" y="254.0" width="11.3" height="12.6" rx="1" fill="#a9c9f8"/>
<rect x="1057" y="254.0" width="6.3" height="12.6" fill="#93bdf6"/>
<rect x="1037.2" y="271.1" width="10.8" height="12.6" rx="1" fill="#b6d0f9"/>
<rect x="1052.0" y="271.1" width="11.3" height="12.6" rx="1" fill="#a9c9f8"/>
<rect x="1057" y="271.1" width="6.3" height="12.6" fill="#93bdf6"/>
<rect x="1037.2" y="292.7" width="10.8" height="12.7" rx="1" fill="#b6d0f9"/>
<rect x="1052.0" y="292.7" width="11.3" height="12.7" rx="1" fill="#a9c9f8"/>
<rect x="1057" y="292.7" width="6.3" height="12.7" fill="#93bdf6"/>
<rect x="1037.2" y="309.0" width="10.8" height="12.6" rx="1" fill="#b6d0f9"/>
<rect x="1052.0" y="309.0" width="11.3" height="12.6" rx="1" fill="#a9c9f8"/>
<rect x="1057" y="309.0" width="6.3" height="12.6" fill="#93bdf6"/>
<rect x="1115.0" y="254.0" width="11.4" height="12.6" rx="1" fill="#b6d0f9"/>
<rect x="1130.0" y="254.0" width="11.8" height="12.6" rx="1" fill="#a9c9f8"/>
<rect x="1135.5" y="254.0" width="6.3" height="12.6" fill="#93bdf6"/>
<rect x="1115.0" y="271.1" width="11.4" height="12.6" rx="1" fill="#b6d0f9"/>
<rect x="1130.0" y="271.1" width="11.8" height="12.6" rx="1" fill="#a9c9f8"/>
<rect x="1135.5" y="271.1" width="6.3" height="12.6" fill="#93bdf6"/>
<rect x="1115.0" y="292.7" width="11.4" height="12.7" rx="1" fill="#b6d0f9"/>
<rect x="1130.0" y="292.7" width="11.8" height="12.7" rx="1" fill="#a9c9f8"/>
<rect x="1135.5" y="292.7" width="6.3" height="12.7" fill="#93bdf6"/>
<rect x="1115.0" y="309.0" width="11.4" height="12.6" rx="1" fill="#b6d0f9"/>
<rect x="1130.0" y="309.0" width="11.8" height="12.6" rx="1" fill="#a9c9f8"/>
<rect x="1135.5" y="309.0" width="6.3" height="12.6" fill="#93bdf6"/>
<rect x="1071.4" y="254.0" width="16.3" height="12.6" rx="1" fill="#b6d0f9"/>
<rect x="1091.3" y="254.0" width="16.2" height="12.6" rx="1" fill="#a9c9f8"/>
<rect x="1099.4" y="254.0" width="8.1" height="12.6" fill="#93bdf6"/>
<rect x="1071.4" y="271.1" width="16.3" height="12.6" rx="1" fill="#b6d0f9"/>
<rect x="1091.3" y="271.1" width="16.2" height="12.6" rx="1" fill="#a9c9f8"/>
<rect x="1099.4" y="271.1" width="8.1" height="12.6" fill="#93bdf6"/>
<rect x="1074.0" y="292.7" width="13.7" height="37.3" rx="1" fill="#b6d0f9"/>
<rect x="1091.3" y="292.7" width="13.5" height="37.3" rx="1" fill="#a9c9f8"/>
<rect x="1097.6" y="292.7" width="7.2" height="37.3" fill="#93bdf6"/>
</g>
</g>
<!-- web check group -->
<g id="webcheck">
<!-- suitcase -->
<rect x="680.5" y="382" width="1.6" height="20" fill="#59627f"/>
<rect x="690.5" y="382" width="1.6" height="20" fill="#59627f"/>
<rect x="680.5" y="381.2" width="11.6" height="1.8" rx="0.6" fill="#59627f"/>
<rect x="669.5" y="401.5" width="29" height="37.5" rx="3" fill="#22cd56"/>
<rect x="674" y="403" width="1.2" height="34" fill="#1ea944"/>
<rect x="693" y="403" width="1.2" height="34" fill="#1ea944"/>
<circle cx="672" cy="440" r="1.8" fill="#3c4a7a"/><circle cx="696" cy="440" r="1.8" fill="#3c4a7a"/>
<!-- legs -->
<path d="M693 371 L719 371 L718 432 L711 432 L707 390 L703 433 L695.5 433 Z" fill="#2f8cf0"/>
<path d="M703 431 L710 431 L712 437 L719 438 L719 441 L703 441Z" fill="#2b3566"/>
<path d="M710 430 L717 430 L717 436 L710 436Z" fill="#2b3566"/>
<!-- shirt -->
<path d="M697 320 L722 321 Q726 323 727 330 L728 346 L724 350 L722 372 L690 374 L688 352 Q687 335 690 326 Q692 321 697 320Z" fill="#f47c77"/>
<path d="M705.8 329 L718.8 329 L718.8 370.5 L705.8 370.5Z" fill="#fbf4ef"/>
<rect x="697" y="322.5" width="4.5" height="23" fill="#2d375f"/>
<rect x="720.5" y="326" width="3" height="18" fill="#2d375f"/>
<path d="M688 340 L694 340 L693 374 L687 374Z" fill="#f47c77"/>
<circle cx="690" cy="378" r="3" fill="#f2b094"/>
<path d="M722 340 L734 341 L735 349 L725 351Z" fill="#f2b094"/>
<rect x="734" y="341.3" width="8" height="3.8" rx="0.8" fill="#b82bd6"/>
<!-- head -->
<rect x="708" y="318" width="6" height="6" fill="#f2b094"/>
<ellipse cx="712.5" cy="314.5" rx="6.5" ry="8.2" fill="#f6c0a4"/>
<path d="M713 319 Q716 321 719 317" fill="none" stroke="#fff" stroke-width="1.5"/>
<path d="M702 307 Q702 300 711 300.5 Q721 301 722 307 L719 309 Q714 306 709 309 L707 315 L704 314 Q702 311 702 307Z" fill="#27336b"/>
<!-- staff 1 -->
<path d="M757 368 L776 368 L776 428 L770 428 L767 385 L765 425 L758 425Z" fill="#5414bd"/>
<path d="M755 424 L765 424 L765 430 L752 430 Q752 426 755 424Z" fill="#2b3566"/>
<path d="M768 426 L776 426 L776 432 L765 432Z" fill="#2b3566"/>
<path d="M756 323 L774 323 Q778 330 778 345 L777 371 L754 371 L753 350 Q752 330 756 323Z" fill="#5414bd"/>
<path d="M756 345 Q760 355 776 362 L778 352 Q768 350 762 340Z" fill="#cdcbf0"/>
<path d="M749 334 Q750 330 754 331 L760 340 L759 345 L753 344 Q749 340 749 334Z" fill="#f2b094"/>
<rect x="760" y="318" width="6" height="7" fill="#f0a98d"/>
<path d="M757 310 Q758 305 764 305.5 Q770 306.5 770 313 Q770 320 765 322 L760 323 Q757 321 757.5 318 L755.5 316.5 L757 314.5Z" fill="#f2b094"/>
<path d="M756.5 311 Q757 305 764 305 Q772 305.5 772 312 L771 318 L768 318 Q768 313 764 312 Q760 311 756.5 311Z" fill="#2e3561"/>
<!-- staff 2 -->
<path d="M778 384 L798 384 L798 440 L791 440 L788 400 L784 442 L777 442Z" fill="#5615c0"/>
<path d="M776 440 L785 440 L785 447 L771 447 Q772 442 776 440Z" fill="#2b3566"/>
<path d="M789 438 L797 438 L798 448 L783 448 Q784 443 789 438Z" fill="#2b3566"/>
<path d="M774 326 L795 325 Q801 335 801 360 L801 388 L777 388 L773 365 Q770 340 774 326Z" fill="#5615c0"/>
<path d="M766 343 Q772 360 782 362 Q792 363 796 352 L796 340 Q793 334 787 336 L784 350 Q778 352 773 340Z" fill="#cdcbf0"/>
<path d="M763.5 342 Q764 336 768 336.5 L773 342 L772 348 L767 348 Q763.5 346 763.5 342Z" fill="#f2b094"/>
<rect x="777" y="320" width="6" height="8" fill="#f0a98d"/>
<path d="M773.5 313 Q774.5 308 780 308 Q787 309 787 316 Q787 323 782 325 L777 326 Q774 324 774.5 321 L772.5 319.5 L774 317.5Z" fill="#f2b094"/>
<path d="M773 313 Q774 306 782 306.5 Q790 307.5 790 315 L789 323 L785 323 Q785 316 781 315 Q777 313.5 773 313Z" fill="#2e3561"/>
</g>
<!-- display counter -->
<g id="counter">
<path d="M1158 486 L1211 405 L1394 380 L1381 486Z" fill="url(#shadeC)"/>
<path d="M1219 334.4 L1362 334.4 Q1382.5 334.4 1382.5 355 L1382.5 378 L1210.8 378 L1210.8 342.4 Q1210.8 334.4 1219 334.4Z" fill="#e4ecfd"/>
<rect x="1225" y="349.6" width="150" height="1" fill="#b7caf5"/>
<rect x="1225" y="364.6" width="150" height="1" fill="#b7caf5"/>
<g fill="#e9d9b8">
<rect x="1229" y="344" width="6" height="5" rx="2"/><rect x="1251" y="344" width="6" height="5" rx="2"/><rect x="1272" y="344" width="6" height="5" rx="2"/><rect x="1293" y="344" width="6" height="5" rx="2"/><rect x="1315" y="344" width="6" height="5" rx="2"/><rect x="1337" y="344" width="6" height="5" rx="2"/>
</g>
<g>
<circle cx="1234" cy="362" r="2" fill="#f2bf8a"/><circle cx="1245" cy="362" r="2" fill="#a9c9f0"/><circle cx="1257" cy="362" r="2" fill="#f4a9a0"/><circle cx="1268" cy="362" r="2" fill="#b9c6ef"/><circle cx="1280" cy="362" r="2" fill="#f2bf8a"/><circle cx="1292" cy="362" r="2" fill="#a9d4ef"/><circle cx="1304" cy="362" r="2" fill="#f4b3a8"/><circle cx="1316" cy="362" r="2" fill="#a9c9f0"/><circle cx="1328" cy="362" r="2" fill="#f2bf8a"/><circle cx="1340" cy="362" r="2" fill="#b9d6ef"/>
</g>
<path d="M1209.6 364.4 L1382.5 364.4 L1382.5 378 L1225.2 378Z" fill="#d6e3fc"/>
<path d="M1209.6 364.4 L1225.2 378 L1225.2 425.6 L1209.6 414.8Z" fill="#b0c7f7"/>
<rect x="1225.2" y="378" width="157" height="7" fill="#c9d9fb"/>
<rect x="1225.2" y="381" width="157" height="1.6" fill="#7f9ae0"/>
<rect x="1225.2" y="385" width="157" height="40.6" fill="#c1d3fa"/>
</g>
<!-- chair man -->
<g id="chairman">
<path d="M1362.5 361 L1393 363 Q1398 364 1396.5 369 L1381 429 L1360 422Z" fill="#a8c2f6"/>
<path d="M1393 363 Q1398 364 1396.5 369 L1381 429 L1376 428 L1391 365Z" fill="#c8d8fb"/>
<rect x="1315.6" y="421" width="62" height="11" rx="2" fill="#a8c2f6"/>
<rect x="1315.6" y="430.5" width="61" height="3.5" fill="#2f3d6e"/>
<path d="M1342 430 L1346.8 430 L1346 451 L1342.5 451Z" fill="#2f3d6e"/>
<path d="M1372 431 L1375.5 431 L1377.5 451 L1374 451Z" fill="#2f3d6e"/>
<path d="M1336 433 L1339.5 433 L1339 448 L1336.5 448Z" fill="#2f3d6e"/>
<path d="M1349.3 411.2 L1373.3 411.2 L1373.3 423.2 L1349.3 423.2Z" fill="#b33fe2"/>
<!-- legs -->
<path d="M1306 410 Q1305 400 1315 397 L1340 392 Q1352 396 1352 408 L1348 416 L1320 418 L1318 452 L1307 452Z" fill="#2f88ee"/>
<path d="M1315 397 L1340 392 L1345 404 L1308 415 Q1300 414 1302 408 Z" fill="#2f88ee"/>
<path d="M1287 408 Q1290 405 1297 406 L1305 407 L1306 414 L1292 416 Q1285 414 1287 408Z" fill="#2d3a6e"/>
<path d="M1292 455 Q1295 450 1304 449 L1316 449 L1316 459 L1293 459 Q1290 458 1292 455Z" fill="#2d3a6e"/>
<!-- shirt -->
<path d="M1346 377 L1368 376 Q1377 378 1377 388 L1376.5 400 L1367 405 L1347 404 Q1342 396 1342 387 Q1342 379 1346 377Z" fill="#f47c77"/>
<path d="M1365 390 Q1370 398 1362 402 L1346 392 L1348 388Z" fill="#f2b094"/>
<path d="M1334.8 384 Q1338 381 1343 383 L1348 390 L1342 393 Q1336 391 1334.8 384Z" fill="#f2b094"/>
<rect x="1336" y="380.5" width="6" height="3" rx="0.8" fill="#2b3566"/>
<rect x="1349.3" y="399" width="27" height="3" fill="#f47c77"/>
<path d="M1345.6 401.6 L1376.9 401.6 L1376.9 411.2 L1345.6 411.2Z" fill="#cfdcfb"/>
<!-- head -->
<rect x="1352" y="373" width="6" height="6" fill="#f2b094"/>
<ellipse cx="1355" cy="370.5" rx="6.8" ry="8" fill="#f6c0a4"/>
<path d="M1352 374 Q1356 377 1360 373" fill="none" stroke="#fff" stroke-width="1.5"/>
<path d="M1346 364 Q1346 357 1355 357.5 Q1364 358 1364 364 L1363 368 L1359 366 Q1354 364 1349 366 L1348 370 Q1346 368 1346 364Z" fill="#27336b"/>
</g>
<!-- beach -->
<g id="beach">
<!-- umbrella pole -->
<path d="M1429 209 L1441.3 293" stroke="#6f7aa3" stroke-width="1.2"/>
<!-- canopy -->
<path d="M1426.5 192.5 Q1452 192 1477.5 204 L1474 206.5 L1476 211.5 L1454 221 L1432 225 L1420 227 L1394 228 L1391.5 225.5 L1384 224 L1377 223 L1377 220 Q1390 206 1405 200 Q1414 195 1426.5 192.5Z" fill="#ffffff"/>
<path d="M1377 220 Q1390 206 1405 200 L1400 206 L1397 213 L1399 215 L1377.5 223.5Z" fill="#b10dd6"/>
<path d="M1399 215 L1422 210 L1420 227 L1394 228 L1391.5 225.5Z" fill="#b10dd6"/>
<path d="M1436.5 193 Q1458 195 1477.5 204 L1474 206.5 L1476 211.5 L1454 221 L1444 206 L1444.5 204Z" fill="#b10dd6"/>
<path d="M1405 200 Q1414 195 1426.5 192.5" fill="none" stroke="#7f86a8" stroke-width="0.5"/>
<path d="M1429 209 L1431.8 228" stroke="#6f7aa3" stroke-width="1.2"/>
<circle cx="1426.5" cy="192.6" r="0.9" fill="#6f7aa3"/>
<!-- chair frame -->
<g stroke="#ffffff" stroke-width="2" fill="none" stroke-linecap="round">
<path d="M1446 242 L1490 297"/>
<path d="M1458 295 L1506 284"/>
<path d="M1470 297 L1525 298"/>
<path d="M1484 277 L1514 300"/>
</g>
<path d="M1444 241 L1454 241 L1496 288 L1486 291Z" fill="#8c9dd3"/>
<path d="M1484 283 L1530 280 L1532 286 L1490 290Z" fill="#8c9dd3"/>
<!-- legs -->
<path d="M1508 267 Q1530 262 1540 268 Q1547 280 1550 300 L1553 305 L1545 306 L1540 290 L1535 280 L1512 284Z" fill="#f0a580"/>
<path d="M1510 277 Q1532 274 1538 282 L1545 303 L1538 304 L1532 290 L1512 288Z" fill="#e99a74"/>
<path d="M1530 305 Q1540 301 1552 302 Q1562 303 1567 306 Q1569 309 1565 310 L1540 311 Q1530 310.5 1530 305Z" fill="#f0a580"/>
<path d="M1529.5 307 Q1531 311 1540 311.5 L1566 310.5 Q1569.5 309.5 1567.5 306.5" fill="none" stroke="#3b4577" stroke-width="1.4"/>
<path d="M1540 303 L1549 307 L1556 303" fill="none" stroke="#3b4577" stroke-width="0.8"/>
<!-- shorts -->
<path d="M1484 268 Q1496 264 1510 265 L1512 286 Q1498 288 1486 285 Q1480 278 1484 268Z" fill="#2f8ae6"/>
<!-- shirt -->
<path d="M1456 250 Q1462 246 1472 248 L1490 256 Q1500 262 1498 268 L1488 280 Q1478 282 1472 276 L1460 266 Q1454 258 1456 250Z" fill="#f47c77"/>
<g fill="#ffffff" opacity="0.9"><circle cx="1463" cy="256" r="1"/><circle cx="1478" cy="262" r="1"/><circle cx="1470" cy="270" r="1"/><circle cx="1484" cy="254" r="1"/><circle cx="1488" cy="272" r="1"/></g>
<!-- arm up -->
<path d="M1453 236 Q1456 233 1460 236 L1466 248 L1461 252 Q1454 244 1453 236Z" fill="#f0a580"/>
<!-- arm with drink -->
<path d="M1494 262 L1502 252 L1508 252 L1508 260 L1498 268Z" fill="#f0a580"/>
<rect x="1503" y="257" width="4" height="2" fill="#ffffff"/>
<path d="M1498 243 L1509 243 L1504 250Z" fill="#f6c84a"/>
<rect x="1503.5" y="249" width="1" height="4" fill="#f6c84a"/>
<!-- head -->
<ellipse cx="1471.5" cy="243" rx="7" ry="7.5" fill="#f0b08e"/>
<path d="M1468 240 L1479.5 239.5 L1479 244 L1468 244.5Z" fill="#1f2a55"/>
<path d="M1463 238 Q1463 230 1471 230 Q1480 230 1480 237 L1468 239 L1466 243 L1463.5 242Z" fill="#27336b"/>
<path d="M1472 248 Q1475 249 1477 247" fill="none" stroke="#fff" stroke-width="1.3"/>
<!-- ball -->
<circle cx="1444" cy="305.4" r="12.6" fill="#d4e6f7"/>
<path d="M1438 301 Q1444 294 1452 294.5 Q1446 292 1440 293.5 Q1434 296 1432 301 Q1435 299 1438 301Z" fill="#20de5c"/>
<path d="M1438 301 Q1433 299 1431.6 303 Q1431.5 308 1434 312 Q1434 306 1438 301Z" fill="#20de5c"/>
<path d="M1438 301 Q1450 303 1455 310 Q1453 315 1448 317.6 Q1441 312 1438 301Z" fill="#20de5c"/>
</g>
<!-- text labels -->
<text class="t" x="172.5" y="342" textLength="105.2" lengthAdjust="spacingAndGlyphs">EASY FLIGHT</text>
<text class="t" x="172.5" y="360.6" textLength="81.0" lengthAdjust="spacingAndGlyphs">BOOKING</text>
<text class="t" x="510.7" y="239.8" textLength="84.2" lengthAdjust="spacingAndGlyphs">EASY CAB</text>
<text class="t" x="510.7" y="258.5" textLength="80.7" lengthAdjust="spacingAndGlyphs">BOOKING</text>
<text class="t" x="677" y="332.4" text-anchor="end" textLength="42.2" lengthAdjust="spacingAndGlyphs">FAST</text>
<text class="t" x="677" y="351.3" text-anchor="end" textLength="37.2" lengthAdjust="spacingAndGlyphs">WEB</text>
<text class="t" x="677" y="369.5" text-anchor="end" textLength="59.7" lengthAdjust="spacingAndGlyphs">CHECK</text>
<text class="t" x="1090" y="356.8" text-anchor="middle" textLength="109.0" lengthAdjust="spacingAndGlyphs">AFFORDABLE</text>
<text class="t" x="1090" y="375.5" text-anchor="middle" textLength="116.2" lengthAdjust="spacingAndGlyphs">HOTEL PRICES</text>
<text class="t" x="1559" y="348.1" text-anchor="end" textLength="81.2" lengthAdjust="spacingAndGlyphs">AMAZING</text>
<text class="t" x="1559" y="367" text-anchor="end" textLength="74.5" lengthAdjust="spacingAndGlyphs">HOLIDAY</text>
<text class="t" x="1559" y="385.9" text-anchor="end" textLength="111.2" lengthAdjust="spacingAndGlyphs">EXPERIENCES</text>
</svg>
</body></html>
